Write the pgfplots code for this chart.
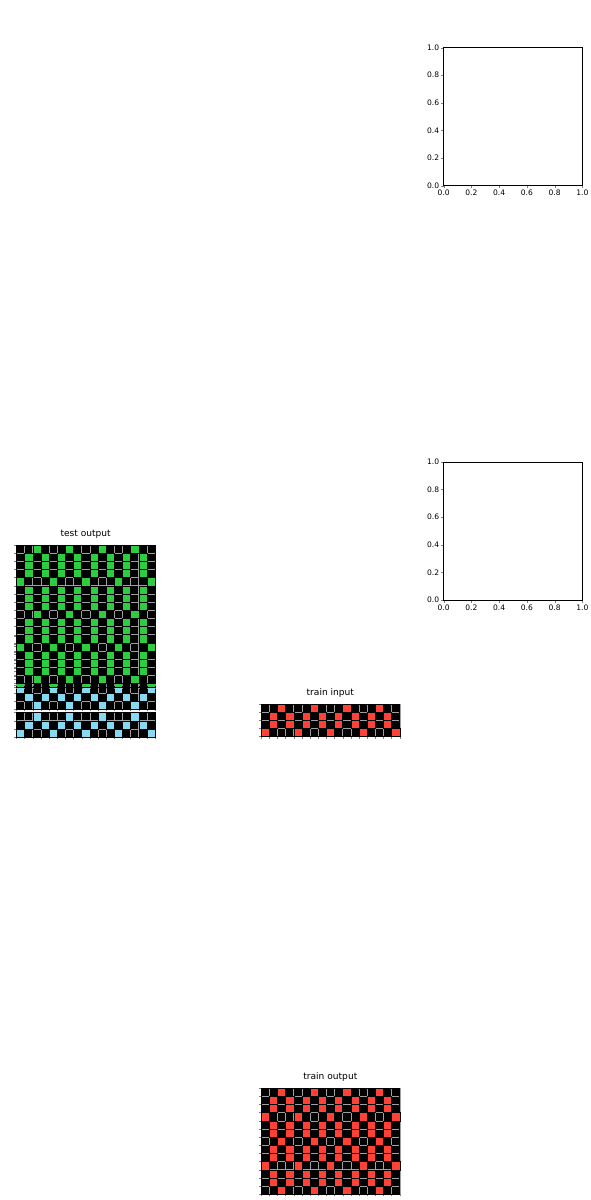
\documentclass[border=0pt]{standalone}
\usepackage{pgfplots}
\pgfplotsset{compat=1.18}
\usepackage{fontspec}
\setmainfont{DejaVu Sans}
\definecolor{cb}{HTML}{87D8F1}
\definecolor{cr}{HTML}{FF4136}
\definecolor{cg}{HTML}{2ECC40}
\pgfplotsset{
  arcgrid/.style={width=255pt, scale only axis, xmin=-0.5, xmax=16.5, ymin=-0.5, y dir=reverse,
    axis background/.style={fill=black}, axis on top,
    xtick={-0.5,0.5,...,16.5}, xticklabels={}, yticklabels={},
    tick align=outside, tick pos=left, major tick length=4pt,
    grid=major, grid style={gray!75, line width=0.6pt}, axis line style={line width=0.8pt},
    title style={at={(0.5,1)}, anchor=south, yshift=3pt, font=\fontsize{16.7}{19}\selectfont},
    clip=true},
  cell/.style={only marks, mark=square*, mark size=7.5pt, mark options={draw=none, fill=#1}},
  emptyax/.style={width=255pt, height=254pt, scale only axis, xmin=0, xmax=1, ymin=0, ymax=1,
    xtick={0,0.2,...,1}, ytick={0,0.2,...,1}, tick align=outside, tick pos=left, major tick length=5pt,
    /pgf/number format/assume math mode=true, /pgf/number format/fixed, /pgf/number format/fixed zerofill, /pgf/number format/precision=1,
    ticklabel style={font=\fontsize{13.9}{16}\selectfont}, axis line style={line width=0.8pt}}
}
\begin{document}
\begin{tikzpicture}[x=1pt,y=1pt]
\path (0,0) rectangle (600,1200);
% train input 1
\begin{axis}[arcgrid, at={(20,1035)}, anchor=south west, height=45pt, ymax=2.5, ytick={-0.5,0.5,...,2.5}, title={train input}]
\addplot[cell=cb] coordinates {(2,0)(6,0)(10,0)(14,0)
(1,1)(3,1)(5,1)(7,1)(9,1)(11,1)(13,1)(15,1)
(0,2)(4,2)(8,2)(12,2)(16,2)};
\end{axis}
% train input 2
\begin{axis}[arcgrid, at={(320,1028)}, anchor=south west, height=60pt, ymax=3.5, ytick={-0.5,0.5,...,3.5}, title={train input}]
\addplot[cell=cr] coordinates {(2,0)(6,0)(10,0)(14,0)
(1,1)(3,1)(5,1)(7,1)(9,1)(11,1)(13,1)(15,1)
(1,2)(3,2)(5,2)(7,2)(9,2)(11,2)(13,2)(15,2)
(0,3)(4,3)(8,3)(12,3)(16,3)};
\end{axis}
% train output 1
\begin{axis}[arcgrid, at={(20,693)}, anchor=south west, height=135pt, ymax=8.5, ytick={-0.5,0.5,...,8.5}, title={train output}]
\addplot[cell=cb] coordinates {(2,0)(6,0)(10,0)(14,0)
(1,1)(3,1)(5,1)(7,1)(9,1)(11,1)(13,1)(15,1)
(0,2)(4,2)(8,2)(12,2)(16,2)
(1,3)(3,3)(5,3)(7,3)(9,3)(11,3)(13,3)(15,3)
(2,4)(6,4)(10,4)(14,4)
(1,5)(3,5)(5,5)(7,5)(9,5)(11,5)(13,5)(15,5)
(0,6)(4,6)(8,6)(12,6)(16,6)
(1,7)(3,7)(5,7)(7,7)(9,7)(11,7)(13,7)(15,7)
(2,8)(6,8)(10,8)(14,8)};
\end{axis}
% train output 2
\begin{axis}[arcgrid, at={(320,664)}, anchor=south west, height=195pt, ymax=12.5, ytick={-0.5,0.5,...,12.5}, title={train output}]
\addplot[cell=cr] coordinates {(2,0)(6,0)(10,0)(14,0)
(1,1)(3,1)(5,1)(7,1)(9,1)(11,1)(13,1)(15,1)
(1,2)(3,2)(5,2)(7,2)(9,2)(11,2)(13,2)(15,2)
(0,3)(4,3)(8,3)(12,3)(16,3)
(1,4)(3,4)(5,4)(7,4)(9,4)(11,4)(13,4)(15,4)
(1,5)(3,5)(5,5)(7,5)(9,5)(11,5)(13,5)(15,5)
(2,6)(6,6)(10,6)(14,6)
(1,7)(3,7)(5,7)(7,7)(9,7)(11,7)(13,7)(15,7)
(1,8)(3,8)(5,8)(7,8)(9,8)(11,8)(13,8)(15,8)
(0,9)(4,9)(8,9)(12,9)(16,9)
(1,10)(3,10)(5,10)(7,10)(9,10)(11,10)(13,10)(15,10)
(1,11)(3,11)(5,11)(7,11)(9,11)(11,11)(13,11)(15,11)
(2,12)(6,12)(10,12)(14,12)};
\end{axis}
% test input
\begin{axis}[arcgrid, at={(20,425)}, anchor=south west, height=75pt, ymax=4.5, ytick={-0.5,0.5,...,4.5}, title={test input}]
\addplot[cell=cg] coordinates {(2,0)(6,0)(10,0)(14,0)
(1,1)(3,1)(5,1)(7,1)(9,1)(11,1)(13,1)(15,1)
(1,2)(3,2)(5,2)(7,2)(9,2)(11,2)(13,2)(15,2)
(1,3)(3,3)(5,3)(7,3)(9,3)(11,3)(13,3)(15,3)
(0,4)(4,4)(8,4)(12,4)(16,4)};
\end{axis}
% test output
\begin{axis}[arcgrid, at={(20,38)}, anchor=south west, height=255pt, ymax=16.5, ytick={-0.5,0.5,...,16.5}, title={test output}]
\addplot[cell=cg] coordinates {(2,0)(6,0)(10,0)(14,0)
(1,1)(3,1)(5,1)(7,1)(9,1)(11,1)(13,1)(15,1)
(1,2)(3,2)(5,2)(7,2)(9,2)(11,2)(13,2)(15,2)
(1,3)(3,3)(5,3)(7,3)(9,3)(11,3)(13,3)(15,3)
(0,4)(4,4)(8,4)(12,4)(16,4)
(1,5)(3,5)(5,5)(7,5)(9,5)(11,5)(13,5)(15,5)
(1,6)(3,6)(5,6)(7,6)(9,6)(11,6)(13,6)(15,6)
(1,7)(3,7)(5,7)(7,7)(9,7)(11,7)(13,7)(15,7)
(2,8)(6,8)(10,8)(14,8)
(1,9)(3,9)(5,9)(7,9)(9,9)(11,9)(13,9)(15,9)
(1,10)(3,10)(5,10)(7,10)(9,10)(11,10)(13,10)(15,10)
(1,11)(3,11)(5,11)(7,11)(9,11)(11,11)(13,11)(15,11)
(0,12)(4,12)(8,12)(12,12)(16,12)
(1,13)(3,13)(5,13)(7,13)(9,13)(11,13)(13,13)(15,13)
(1,14)(3,14)(5,14)(7,14)(9,14)(11,14)(13,14)(15,14)
(1,15)(3,15)(5,15)(7,15)(9,15)(11,15)(13,15)(15,15)
(2,16)(6,16)(10,16)(14,16)};
\end{axis}
% empty axes
\begin{axis}[emptyax, at={(320,338)}, anchor=south west]
\end{axis}
\begin{axis}[emptyax, at={(320,38)}, anchor=south west]
\end{axis}
\end{tikzpicture}
\end{document}
